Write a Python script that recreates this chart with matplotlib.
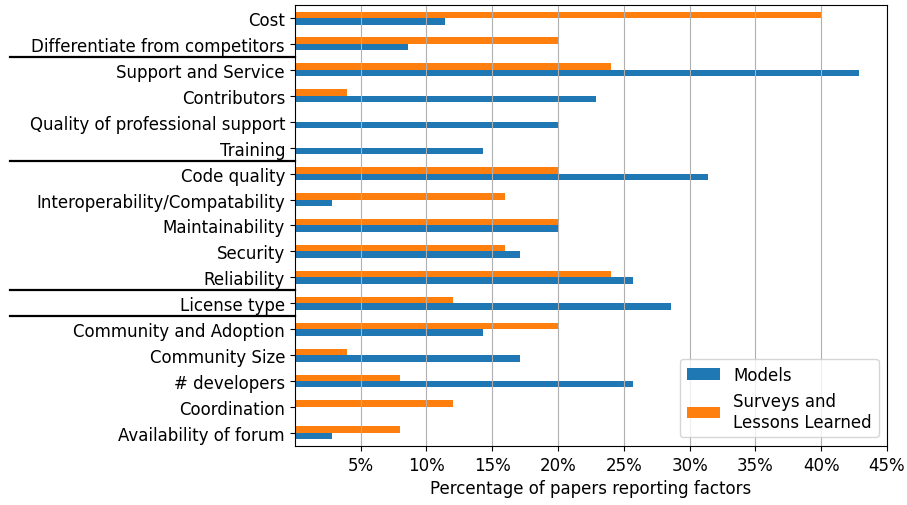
import numpy as np
import matplotlib
matplotlib.use('Agg')
import matplotlib.pyplot as plt
from matplotlib.ticker import PercentFormatter

plt.rcParams['font.size'] = 12

# categories from top to bottom as they appear in the chart
factors = ['Cost', 'Differentiate from competitors', 'Support and Service',
           'Contributors', 'Quality of professional support', 'Training',
           'Code quality', 'Interoperability/Compatability', 'Maintainability',
           'Security', 'Reliability', 'License type', 'Community and Adoption',
           'Community Size', '# developers', 'Coordination',
           'Availability of forum']
models = [11.43, 8.57, 42.86, 22.86, 20.0, 14.29, 31.43, 2.86, 20.0,
          17.14, 25.71, 28.57, 14.29, 17.14, 25.71, 0.0, 2.86]
surveys = [40, 20, 24, 4, 0, 0, 20, 16, 20, 16, 24, 12, 20, 4, 8, 12, 8]
# group separators drawn after these rows (index from top)
separators_after = [1, 5, 10, 11]

fig, ax = plt.subplots(figsize=(9.07, 5.06), dpi=100)
fig.subplots_adjust(left=0.325, right=0.978, top=0.988, bottom=0.117)

n = len(factors)
y = np.arange(n)[::-1]
h = 0.25
ax.barh(y - h / 2, models, height=h, color='#1f77b4', label='Models')
ax.barh(y + h / 2, surveys, height=h, color='#ff7f0e',
        label='Surveys and\nLessons Learned')

ax.set_yticks(y)
ax.set_yticklabels(factors)
ax.set_ylim(-0.5, n - 0.5)
ax.set_xlim(0, 45)
ax.set_xticks(np.arange(5, 46, 5))
ax.xaxis.set_major_formatter(PercentFormatter(decimals=0))
ax.grid(axis='x')
ax.set_xlabel('Percentage of papers reporting factors')
ax.legend(loc='lower right')

for i in separators_after:
    ys = n - 1 - i - 0.5
    ax.plot([-0.48, 0], [ys, ys], color='black', lw=1.6, clip_on=False,
            transform=ax.get_yaxis_transform())

fig.savefig('out.png')
